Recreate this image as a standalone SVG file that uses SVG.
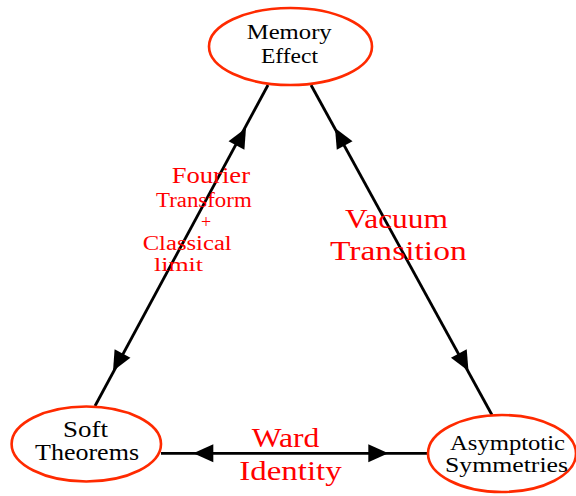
<svg xmlns="http://www.w3.org/2000/svg" width="576" height="496" viewBox="0 0 576 496">
<style>
.node{fill:#fff;stroke:#ff2a00;stroke-width:2.6}
text{font-family:'Liberation Serif','Times New Roman','DejaVu Serif',serif}
.nt{fill:#000}
.lt{fill:#ff0000}
.edge{stroke:#000;stroke-width:2.8;fill:none}
</style>
<defs>
<path id="ah" d="M0,0 L-20,-9 L-20,9 Z" fill="#000"/>
</defs>
<g id="connectors">
<line class="edge" x1="268" y1="85" x2="95" y2="406"/>
<line class="edge" x1="311" y1="85" x2="492" y2="415"/>
<line class="edge" x1="161" y1="453.3" x2="428" y2="453.3"/>
<use href="#ah" transform="translate(246,128) rotate(-61.6)"/>
<use href="#ah" transform="translate(113,371) rotate(118.4)"/>
<use href="#ah" transform="translate(335,128) rotate(-118.9)"/>
<use href="#ah" transform="translate(468.5,371) rotate(61.1)"/>
<use href="#ah" transform="translate(193.3,453.3) rotate(180)"/>
<use href="#ah" transform="translate(388.3,453.3)"/>
</g>
<g id="memory">
<ellipse class="node" cx="290.5" cy="46.5" rx="81.5" ry="38.5"/>
<text class="nt" x="246.7" y="39.3" font-size="22" textLength="85" lengthAdjust="spacingAndGlyphs">Memory</text>
<text class="nt" x="261" y="62.7" font-size="22" textLength="57" lengthAdjust="spacingAndGlyphs">Effect</text>
</g>
<g id="soft">
<ellipse class="node" cx="86.3" cy="444" rx="74.7" ry="37.5"/>
<text class="nt" x="63" y="436.7" font-size="23" textLength="45" lengthAdjust="spacingAndGlyphs">Soft</text>
<text class="nt" x="35" y="460" font-size="23" textLength="104" lengthAdjust="spacingAndGlyphs">Theorems</text>
</g>
<g id="asymptotic">
<ellipse class="node" cx="502" cy="453.5" rx="74" ry="38.5"/>
<text class="nt" x="450" y="450" font-size="21" textLength="115" lengthAdjust="spacingAndGlyphs">Asymptotic</text>
<text class="nt" x="445" y="471.7" font-size="21" textLength="123" lengthAdjust="spacingAndGlyphs">Symmetries</text>
</g>
<g id="labels">
<text class="lt" x="171.7" y="182.7" font-size="24" textLength="78.3" lengthAdjust="spacingAndGlyphs">Fourier</text>
<text class="lt" x="156" y="206.7" font-size="20" textLength="95.7" lengthAdjust="spacingAndGlyphs">Transform</text>
<text class="lt" x="206" y="227.5" font-size="18" text-anchor="middle">+</text>
<text class="lt" x="142.7" y="250" font-size="20" textLength="89" lengthAdjust="spacingAndGlyphs">Classical</text>
<text class="lt" x="154" y="271" font-size="18.5" textLength="49" lengthAdjust="spacingAndGlyphs">limit</text>
<text class="lt" x="345" y="228.3" font-size="28" textLength="103" lengthAdjust="spacingAndGlyphs">Vacuum</text>
<text class="lt" x="330" y="260" font-size="28" textLength="136.7" lengthAdjust="spacingAndGlyphs">Transition</text>
<text class="lt" x="251.7" y="446.7" font-size="28" textLength="67.6" lengthAdjust="spacingAndGlyphs">Ward</text>
<text class="lt" x="239.3" y="480" font-size="28" textLength="102.4" lengthAdjust="spacingAndGlyphs">Identity</text>
</g>
</svg>
